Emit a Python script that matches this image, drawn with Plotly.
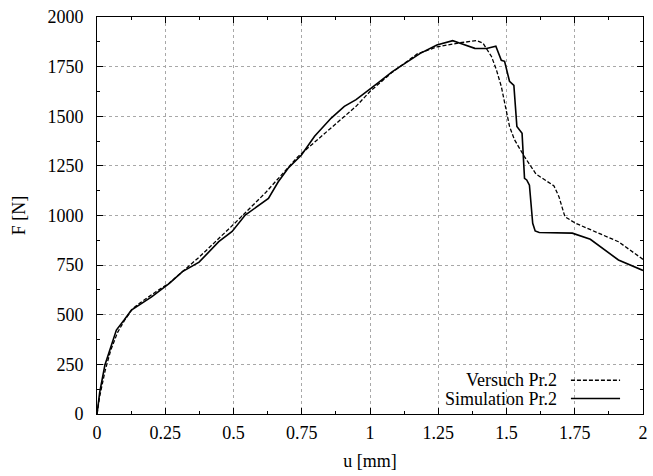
import plotly.graph_objects as go

# Simulation Pr.2 (solid)
sim_u = [0, 0.01, 0.029, 0.05, 0.071, 0.1, 0.126, 0.2, 0.265, 0.313, 0.374, 0.446, 0.495,
         0.543, 0.628, 0.664, 0.70, 0.749, 0.797, 0.858, 0.906, 0.949, 1.0, 1.027, 1.082,
         1.184, 1.245, 1.303, 1.33, 1.384, 1.427, 1.461, 1.481, 1.493, 1.511, 1.527, 1.538,
         1.553, 1.557, 1.566, 1.574, 1.584, 1.596, 1.605, 1.62, 1.741, 1.807, 1.91, 2.0]
sim_F = [0, 110, 247, 340, 423, 475, 524, 590, 658, 717, 765, 868, 920,
         1002, 1086, 1170, 1238, 1305, 1399, 1491, 1550, 1584, 1635, 1666, 1725,
         1817, 1859, 1881, 1868, 1842, 1841, 1853, 1782, 1777, 1676, 1655, 1449,
         1424, 1414, 1187, 1179, 1153, 961, 922, 914, 911, 880, 776, 723]

# Versuch Pr.2 (dashed)
exp_u = [0, 0.01, 0.03, 0.05, 0.075, 0.1, 0.13, 0.156, 0.216, 0.265, 0.374, 0.5, 0.616,
         0.737, 0.949, 1.0, 1.08, 1.173, 1.245, 1.324, 1.39, 1.414, 1.445, 1.463, 1.481,
         1.499, 1.511, 1.529, 1.565, 1.608, 1.674, 1.692, 1.714, 1.753, 1.91, 2.0]
exp_F = [0, 90, 220, 320, 410, 470, 530, 558, 616, 660, 790, 955, 1113,
         1298, 1550, 1625, 1720, 1814, 1849, 1869, 1881, 1868, 1801, 1734, 1650,
         1532, 1449, 1382, 1298, 1209, 1149, 1095, 994, 961, 868, 779]

legend_labels = ["Versuch Pr.2", "Simulation Pr.2"]

FONT = "Liberation Serif, Times New Roman, Times, DejaVu Serif, serif"
FS = 18

fig = go.Figure()
fig.add_trace(go.Scatter(x=exp_u, y=exp_F, mode="lines", name=legend_labels[0],
                         line=dict(color="black", width=1.3, dash="4px,2px"), showlegend=False))
fig.add_trace(go.Scatter(x=sim_u, y=sim_F, mode="lines", name=legend_labels[1],
                         line=dict(color="black", width=1.6), showlegend=False))

axis_common = dict(showline=True, linecolor="black", linewidth=1, mirror="allticks",
                   ticks="inside", ticklen=6, tickcolor="black",
                   showgrid=True, gridcolor="#a8a8a8", griddash="dot", gridwidth=1,
                   zeroline=False, tickfont=dict(family=FONT, size=FS, color="black"))

fig.update_xaxes(range=[0, 2], dtick=0.25, tick0=0, ticklabelstandoff=2,
                 minor=dict(ticks="inside", ticklen=3, dtick=0.125, tickcolor="black", showgrid=False),
                 title=dict(text="u [mm]", font=dict(family=FONT, size=FS, color="black"), standoff=12),
                 **axis_common)
fig.update_yaxes(range=[0, 2000], dtick=250, tick0=0, ticklabelstandoff=9,
                 minor=dict(ticks="inside", ticklen=3, dtick=125, tickcolor="black", showgrid=False),
                 title=dict(text="F [N]", font=dict(family=FONT, size=FS, color="black"), standoff=17),
                 **axis_common)

# legend drawn gnuplot-style: text right-aligned, sample line to the right
legend_rows = [(legend_labels[0], dict(color="black", width=1.3, dash="4px,2px"), 0.085),
               (legend_labels[1], dict(color="black", width=1.6), 0.039)]
for text, ln, yp in legend_rows:
    fig.add_annotation(x=0.846, y=yp, xref="paper", yref="paper", text=text, showarrow=False,
                       xanchor="right", yanchor="middle",
                       font=dict(family=FONT, size=FS, color="black"))
    fig.add_shape(type="line", xref="paper", yref="paper", x0=0.868, x1=0.958, y0=yp, y1=yp,
                  line=ln)

fig.update_layout(width=653, height=476, margin=dict(l=97, r=5, t=17, b=62),
                  plot_bgcolor="white", paper_bgcolor="white",
                  font=dict(family=FONT, size=FS, color="black"))

fig.write_html("out.html")
